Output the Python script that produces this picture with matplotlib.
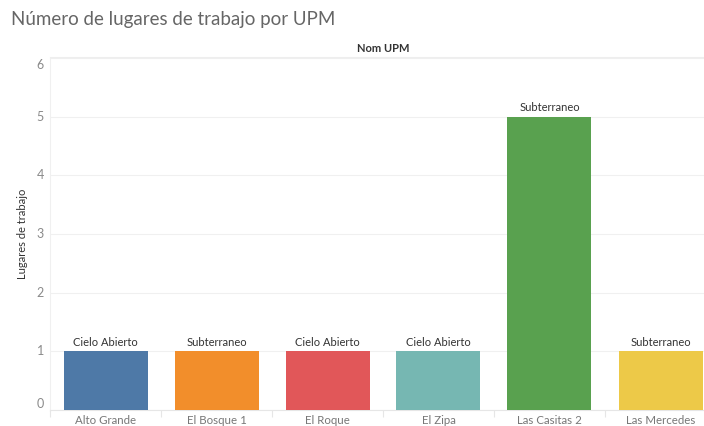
import numpy as np
import matplotlib.pyplot as plt

upm = ['Alto Grande', 'El Bosque 1', 'El Roque', 'El Zipa', 'Las Casitas 2', 'Las Mercedes']
lugares = [1, 1, 1, 1, 5, 1]
tipo = ['Cielo Abierto', 'Subterraneo', 'Cielo Abierto', 'Cielo Abierto', 'Subterraneo', 'Subterraneo']
colores = ['#4e79a7', '#f28e2b', '#e15759', '#76b7b2', '#59a14f', '#edc948']

plt.rcParams['font.family'] = ['Lato', 'DejaVu Sans']

W, H = 704, 426
fig = plt.figure(figsize=(W / 100, H / 100), dpi=100)
# plot area in pixels: left 50, right 716 (cut by the figure edge), top 58, bottom 410
x0, x1, y0, y1 = 50, 716, 58, 410
ax = fig.add_axes([x0 / W, 1 - y1 / H, (W - x0) / W, (y1 - y0) / H])
n = len(upm)
colw = (x1 - x0) / n

x = np.arange(n)
ax.bar(x, lugares, width=84 / colw, color=colores, zorder=3)
for xi, v, t in zip(x, lugares, tipo):
    ax.text(xi, v + 0.06, t, ha='center', va='bottom', fontsize=8, color='#333333')

for s in ['top', 'right']:
    ax.spines[s].set_visible(False)
ax.spines['left'].set_color('#f0f0f0')
ax.spines['bottom'].set_color('#e6e6e6')
ax.set_yticks(range(7))
ax.yaxis.grid(True, color='#f0f0f0', lw=0.8)
ax.set_axisbelow(True)
ax.tick_params(axis='y', length=0)
ax.set_yticklabels([])

ax.set_xticks(np.arange(-0.5, n, 1.0))
ax.set_xticklabels([])
ax.tick_params(axis='x', length=5, color='#e6e6e6')
ax.set_xlim(-0.5, -0.5 + (W - x0) / colw)
ax.set_ylim(0, 6)

for v in range(7):
    off = 0
    if v == 0:
        off = 0.1
    if v == 6:
        off = -0.12
    ax.text(-0.5 - 6 / colw, v + off, str(v), ha='right', va='center', fontsize=9, color='#8a8a8a',
            clip_on=False)

for xi, name in zip(x, upm):
    fig.text((x0 + (xi + 0.5) * colw) / W, 1 - 420 / H, name, ha='center', va='center',
             fontsize=8.3, color='#777777')

ax.set_ylabel('Lugares de trabajo', fontsize=8, color='#333333', labelpad=12)
fig.text(383 / W, 1 - 48 / H, 'Nom UPM', ha='center', va='center', fontsize=8, color='#333333',
         fontweight='bold')
fig.lines.append(plt.Line2D([x0 / W, 1], [1 - 57 / H, 1 - 57 / H], transform=fig.transFigure,
                            color='#eeeeee', lw=0.8))
fig.text(11 / W, 1 - 20 / H, 'Número de lugares de trabajo por UPM', ha='left', va='center',
         fontsize=13.5, color='#666666')

fig.savefig('out.png', dpi=100)
